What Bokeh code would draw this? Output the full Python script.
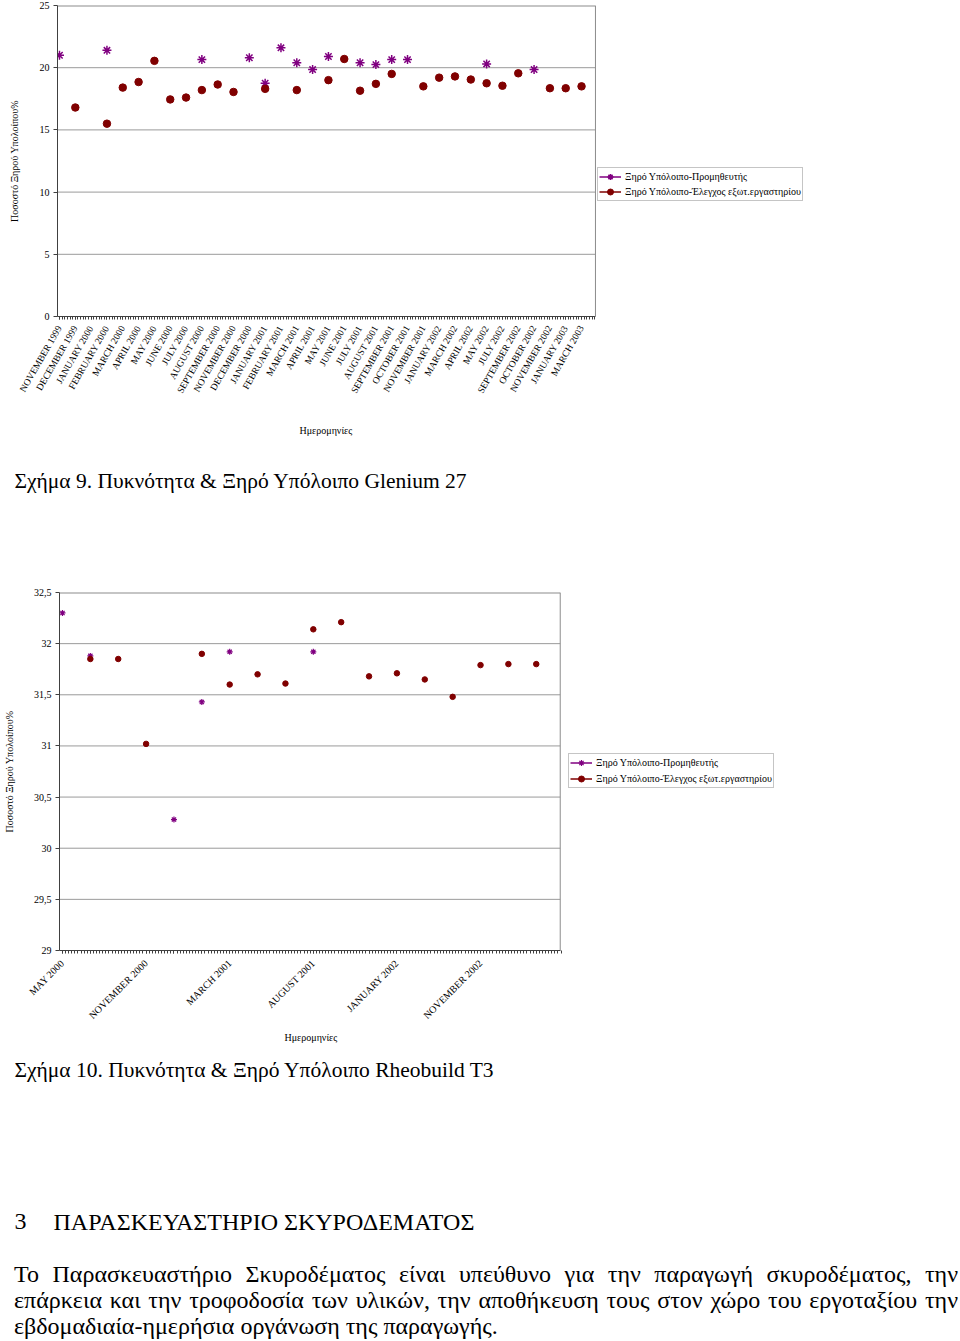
import numpy as np
from bokeh.plotting import figure
from bokeh.models import Range1d, FixedTicker, Legend, LegendItem, Div, AllLabels, Title
from bokeh.layouts import column
from bokeh.core.properties import value
from bokeh.embed import file_html
from bokeh.resources import INLINE

nan = float("nan")

# ---------------- Chart 1 (Glenium 27) ----------------
c1_dates = ["NOVEMBER 1999", "DECEMBER 1999", "JANUARY 2000", "FEBRUARY 2000", "MARCH 2000",
            "APRIL 2000", "MAY 2000", "JUNE 2000", "JULY 2000", "AUGUST 2000",
            "SEPTEMBER 2000", "NOVEMBER 2000", "DECEMBER 2000", "JANUARY 2001", "FEBRUARY 2001",
            "MARCH 2001", "APRIL 2001", "MAY 2001", "JUNE 2001", "JULY 2001",
            "AUGUST 2001", "SEPTEMBER 2001", "OCTOBER 2001", "NOVEMBER 2001", "JANUARY 2002",
            "MARCH 2002", "APRIL 2002", "MAY 2002", "JULY 2002", "SEPTEMBER 2002",
            "OCTOBER 2002", "NOVEMBER 2002", "JANUARY 2003", "MARCH 2003"]
c1_supplier = [21.0, nan, nan, 21.4, nan, nan, nan, nan, nan, 20.65,
               nan, nan, 20.8, 18.75, 21.6, 20.4, 19.85, 20.9, nan, 20.4,
               20.25, 20.65, 20.65, nan, nan, nan, nan, 20.3, nan, nan,
               19.85, nan, nan, nan]
c1_lab = [nan, 16.8, nan, 15.5, 18.4, 18.85, 20.55, 17.45, 17.6, 18.2,
          18.65, 18.05, nan, 18.3, nan, 18.2, nan, 19.0, 20.7, 18.15,
          18.7, 19.5, nan, 18.5, 19.2, 19.3, 19.05, 18.75, 18.55, 19.55,
          nan, 18.35, 18.35, 18.5]
c1_yticks = [0, 5, 10, 15, 20, 25]

# ---------------- Chart 2 (Rheobuild T3) ----------------
c2_dates = ["MAY 2000", "JULY 2000", "SEPTEMBER 2000", "NOVEMBER 2000", "JANUARY 2001",
            "FEBRUARY 2001", "MARCH 2001", "APRIL 2001", "JUNE 2001", "AUGUST 2001",
            "SEPTEMBER 2001", "NOVEMBER 2001", "JANUARY 2002", "APRIL 2002", "JULY 2002",
            "NOVEMBER 2002", "JANUARY 2003", "MARCH 2003"]
c2_supplier = [32.3, 31.88, nan, nan, 30.28, 31.43, 31.92, nan, nan, 31.92,
               nan, nan, nan, nan, nan, nan, nan, nan]
c2_lab = [nan, 31.85, 31.85, 31.02, nan, 31.90, 31.60, 31.70, 31.61, 32.14,
          32.21, 31.68, 31.71, 31.65, 31.48, 31.79, 31.80, 31.80]
c2_yticks = [29, 29.5, 30, 30.5, 31, 31.5, 32, 32.5]
c2_ytick_labels = ["29", "29,5", "30", "30,5", "31", "31,5", "32", "32,5"]
c2_label_every = 3

series_names = ["Ξηρό Υπόλοιπο-Προμηθευτής", "Ξηρό Υπόλοιπο-Έλεγχος εξωτ.εργαστηρίου"]
y_title = "Ποσοστό Ξηρού Υπολοίπου%"
x_title = "Ημερομηνίες"

caption9 = "Σχήμα 9. Πυκνότητα & Ξηρό Υπόλοιπο Glenium 27"
caption10 = "Σχήμα 10. Πυκνότητα & Ξηρό Υπόλοιπο Rheobuild T3"
heading_num = "3"
heading_text = "ΠΑΡΑΣΚΕΥΑΣΤΗΡΙΟ ΣΚΥΡΟΔΕΜΑΤΟΣ"
para_lines = ["Το Παρασκευαστήριο Σκυροδέματος είναι υπεύθυνο για την παραγωγή σκυροδέματος, την",
              "επάρκεια και την τροφοδοσία των υλικών, την αποθήκευση τους στον χώρο του εργοταξίου την",
              "εβδομαδιαία-ημερήσια οργάνωση της παραγωγής."]

FONT = "Liberation Serif"
PURPLE = "#800080"
DARKRED = "#800000"
GRID = "#9a9a9a"
BORDER = "#8c8c8c"
AXIS = "#404040"
W = 960


def no_align(p):
    if "frame_align" in p.properties():
        p.frame_align = False


def style_chart(p, x_bounds, yticks, xlab_size, xlab_standoff, xt_offset, xt_standoff, ys_label):
    """Axes limited to the plot area; the frame itself is wider so the legend fits inside it."""
    for ax in p.axis:
        ax.axis_line_color = AXIS
        ax.major_tick_line_color = AXIS
        ax.minor_tick_line_color = AXIS
        ax.major_tick_in = 0
        ax.minor_tick_in = 0
        ax.major_label_text_font = FONT
        ax.major_label_text_color = "black"
        ax.axis_label_text_font = FONT
        ax.axis_label_text_font_style = "normal"
        ax.axis_label_text_font_size = "10px"
        ax.axis_label_text_color = "black"
        ax.major_label_policy = AllLabels()
    xa = p.xaxis[0]
    xa.bounds = x_bounds
    xa.major_label_text_font_size = xlab_size
    xa.major_tick_out = 3
    xa.minor_tick_out = 3
    xa.major_label_standoff = xlab_standoff
    ya = p.yaxis[0]
    ya.ticker = FixedTicker(ticks=yticks)
    ya.major_label_text_font_size = "10px"
    ya.major_tick_out = 4
    ya.minor_tick_out = 0
    ya.axis_label = y_title
    ya.axis_label_standoff = ys_label
    ya.major_label_standoff = 4
    # x-axis title centred under the plot area (not under the wider frame)
    xt = Title(text=x_title, align="left", offset=xt_offset, standoff=xt_standoff,
               text_font=FONT, text_font_size="10px", text_font_style="normal", text_color="black")
    p.add_layout(xt, "below")
    p.grid.visible = False
    p.outline_line_color = None
    p.background_fill_color = "white"
    p.border_fill_color = "white"
    no_align(p)
    inner = yticks[1:-1]
    p.segment(x0=[x_bounds[0]] * len(inner), x1=[x_bounds[1]] * len(inner),
              y0=inner, y1=inner, line_color=GRID, line_width=1)
    p.segment(x0=[x_bounds[0]], x1=[x_bounds[1]], y0=[yticks[-1]], y1=[yticks[-1]],
              line_color=BORDER, line_width=2)
    p.segment(x0=[x_bounds[1]], x1=[x_bounds[1]], y0=[yticks[0]], y1=[yticks[-1]],
              line_color=BORDER, line_width=1)


def add_series(p, x, sup, lab, star_size, star_w, dot_size, loc, glyph_h, spacing, pad):
    r_sup = p.scatter(x, sup, marker="asterisk", size=star_size, line_color=PURPLE, line_width=star_w)
    r_lab = p.scatter(x, lab, marker="circle", size=dot_size, fill_color=DARKRED, line_color=DARKRED)
    l_sup = p.line([nan], [nan], line_color=PURPLE, line_width=1.5)
    l_lab = p.line([nan], [nan], line_color=DARKRED, line_width=1.5)
    legend = Legend(items=[LegendItem(label=series_names[0], renderers=[l_sup, r_sup]),
                           LegendItem(label=series_names[1], renderers=[l_lab, r_lab])],
                    location=loc)
    legend.border_line_color = BORDER
    legend.background_fill_color = "white"
    legend.background_fill_alpha = 1.0
    legend.label_text_font = FONT
    legend.label_text_font_size = "10px"
    legend.label_text_color = "black"
    legend.glyph_width = 22
    legend.glyph_height = glyph_h
    legend.label_height = glyph_h
    legend.label_standoff = 4
    legend.padding = pad
    legend.spacing = spacing
    legend.margin = 0
    p.add_layout(legend)


# ---- Chart 1: page 0..458; plot area x 57..595, y 5..316; frame extended to x=840 for legend ----
c1_x = np.arange(len(c1_dates))
c1_bounds = (-0.126, 33.88)
p1 = figure(width=W, height=458, x_range=Range1d(c1_bounds[0], 49.37), y_range=Range1d(0, 25),
            toolbar_location=None, output_backend="svg",
            min_border_left=57, min_border_right=120, min_border_top=5, min_border_bottom=142)
style_chart(p1, c1_bounds, c1_yticks, "9.5px", 7, 242, 45, 17)
p1.xaxis[0].ticker = FixedTicker(ticks=[int(i) for i in c1_x],
                                 minor_ticks=[float(v) for v in np.arange(0, len(c1_dates), 1 / 6)])
p1.xaxis[0].major_label_overrides = {int(i): d for i, d in enumerate(c1_dates)}
p1.xaxis[0].major_label_orientation = np.pi / 3
add_series(p1, c1_x, c1_supplier, c1_lab, 9, 1.5, 7.5, (540, 115), 15, 0, 1)


# ---- text figures ----
def text_fig(h):
    f = figure(width=W, height=h, x_range=Range1d(0, W), y_range=Range1d(h, 0),
               x_axis_type=None, y_axis_type=None, toolbar_location=None, output_backend="svg",
               min_border=0, outline_line_color=None)
    f.background_fill_color = "white"
    f.border_fill_color = "white"
    no_align(f)
    return f


def put_text(f, x, y, s, size):
    f.text(x=[x], y=[y], text=[s], text_font=value(FONT), text_font_size=size,
           text_baseline="middle", text_align="left", text_color="black")


p_mid = text_fig(122)          # page 458..580
put_text(p_mid, 14, 22, caption9, "21.5px")

# ---- Chart 2: page 580..1050; plot area x 57..559, y 592..950; frame extended to x=810 ----
c2_x = np.arange(len(c2_dates))
c2_bounds = (-0.107, 17.86)
p2 = figure(width=W, height=470, x_range=Range1d(c2_bounds[0], 26.84), y_range=Range1d(29, 32.5),
            toolbar_location=None, output_backend="svg",
            min_border_left=57, min_border_right=150, min_border_top=12, min_border_bottom=100)
style_chart(p2, c2_bounds, c2_yticks, "10px", 8, 225, 4, 16)
p2.xaxis[0].ticker = FixedTicker(ticks=[int(i) for i in c2_x],
                                 minor_ticks=[float(v) for v in np.arange(0, len(c2_dates), 1 / 9)])
p2.xaxis[0].major_label_overrides = {int(i): (d if i % c2_label_every == 0 else "")
                                     for i, d in enumerate(c2_dates)}
p2.xaxis[0].major_label_orientation = np.pi / 4
p2.yaxis[0].major_label_overrides = {float(t): s for t, s in zip(c2_yticks, c2_ytick_labels)}
add_series(p2, c2_x, c2_supplier, c2_lab, 6, 1.2, 5.5, (509, 162), 15, 1, 1)

# ---- Caption 10 and heading: page 1050..1256 ----
p_bot = text_fig(206)
put_text(p_bot, 14, 19, caption10, "21.5px")
put_text(p_bot, 14, 171, heading_num, "24px")
put_text(p_bot, 53, 171, heading_text, "24px")

# ---- Paragraph: page 1256..1341 ----
inner_html = "".join(
    '<div style="text-align:justify;text-align-last:justify;">%s</div>' % ln for ln in para_lines[:-1]
) + '<div style="text-align:left;">%s</div>' % para_lines[-1]
html = ('<div style="width:944px;font-family:\'Liberation Serif\';font-size:24px;line-height:26px;'
        'padding-top:5px;color:black;">%s</div>' % inner_html)
div = Div(text=html, width=944, height=85, margin=(0, 0, 0, 14))

layout = column(p1, p_mid, p2, p_bot, div, spacing=0)
open("out.html", "w").write(file_html(layout, INLINE))
